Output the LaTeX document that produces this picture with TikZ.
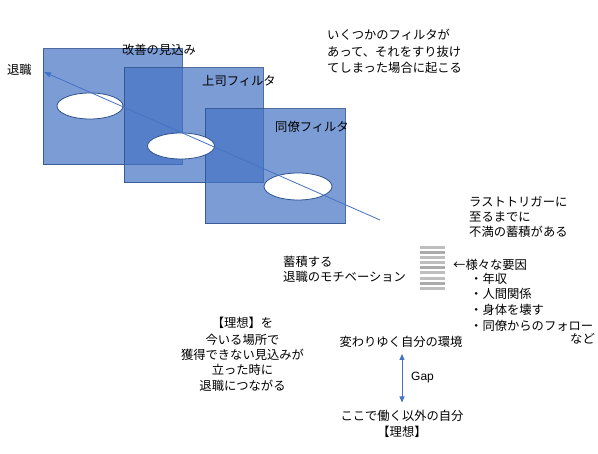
\documentclass[tikz,border=0pt]{standalone}
\usepackage{fontspec}
\setmainfont{Liberation Sans}
\newfontfamily\jpfont{Noto Sans CJK JP}
\usetikzlibrary{arrows.meta,shapes.geometric}
\definecolor{blueA}{HTML}{4472C4}
\definecolor{blueB}{HTML}{2F528F}
\definecolor{barG}{HTML}{BEBEBE}
\definecolor{barD}{HTML}{ABABAB}
\tikzset{
  filterbox/.style={fill=blueA, fill opacity=0.7, draw=blueB, draw opacity=0.85, line width=1pt},
  hole/.style={ellipse, fill=white, draw=blueB, line width=0.8pt, inner sep=0pt},
  jp/.style={font=\jpfont\fontsize{12.3}{15}\selectfont, inner sep=0pt},
  lt/.style={jp, anchor=base west},
  ct/.style={jp, anchor=base},
  rt/.style={jp, anchor=base east},
  conn/.style={draw=blueA, line width=0.9pt},
}
\begin{document}
\begin{tikzpicture}[x=1pt,y=-1pt]
\useasboundingbox (0,0) rectangle (598,454);
% filter squares
\path[filterbox] (43,49) rectangle (182,165);
\path[filterbox] (124,68) rectangle (263,183);
\path[filterbox] (205,109) rectangle (345,224);
% holes
\node[hole, minimum width=66pt, minimum height=26pt] (h1) at (90,106) {};
\node[hole, minimum width=67pt, minimum height=26pt] (h2) at (181,146) {};
\node[hole, minimum width=68pt, minimum height=27pt] (h3) at (298,186.5) {};
% trajectory line
\coordinate (ls) at (380,220);
\coordinate (le) at (44,72);
\draw[conn, line width=0.8pt, -{Triangle[length=7pt,width=5pt]}] (ls) -- (le);
% labels on filters
\node[lt] (tTaishoku) at (7,74.5) {退職};
\node[ct] (tKaizen) at (159,54.5) {改善の見込み};
\node[ct] (tJoshi) at (239,85.5) {上司フィルタ};
\node[ct] (tDoryo) at (312,131.5) {同僚フィルタ};
% top-right note
\node[lt] (n1) at (327,39.5) {いくつかのフィルタが};
\node[lt] (n2) at (327,56.5) {あって、それをすり抜け};
\node[lt] (n3) at (327,72.5) {てしまった場合に起こる};
% last trigger note
\node[lt] (r1) at (469,206.5) {ラストトリガーに};
\node[lt] (r2) at (469,221.5) {至るまでに};
\node[lt] (r3) at (469,236.5) {不満の蓄積がある};
% stacked bars
\foreach \i/\c in {0/barG,1/barD,2/barG,3/barG,4/barD,5/barG,6/barG,7/barD,8/barG}{
  \path[fill=\c] (420,246+\i*5.1) rectangle (445,249+\i*5.1);
}
\node[lt] (m1) at (283,266.5) {蓄積する};
\node[lt] (m2) at (283,281.5) {退職のモチベーション};
% factors list
\node[lt] (f0) at (453,269.5) {←様々な要因};
\node[lt] (f1) at (470,283.5) {・年収};
\node[lt] (f2) at (470,298.5) {・人間関係};
\node[lt] (f3) at (470,314.5) {・身体を壊す};
\node[lt] (f4) at (470,330.5) {・同僚からのフォロー};
\node[rt] (f5) at (595,343.5) {など};
% left explanation
\node[ct] (e1) at (242.5,327.5) {【理想】を};
\node[ct] (e2) at (242.5,344.5) {今いる場所で};
\node[ct] (e3) at (242.5,359.5) {獲得できない見込みが};
\node[ct] (e4) at (242.5,374.5) {立った時に};
\node[ct] (e5) at (242.5,390.5) {退職につながる};
% gap
\node[ct] (env) at (401,346.5) {変わりゆく自分の環境};
\node[ct] (ideal1) at (402,420.5) {ここで働く以外の自分};
\node[ct] (ideal2) at (402,436.5) {【理想】};
\coordinate (gt) at (402,354);
\coordinate (gb) at (402,402.5);
\draw[conn, {Triangle[length=6pt,width=5pt]}-{Triangle[length=6pt,width=5pt]}] (gt) -- (gb);
\node[anchor=base west, inner sep=0pt, font=\fontsize{12}{14}\selectfont] (gap) at (411,380.3) {Gap};
\end{tikzpicture}
\end{document}
